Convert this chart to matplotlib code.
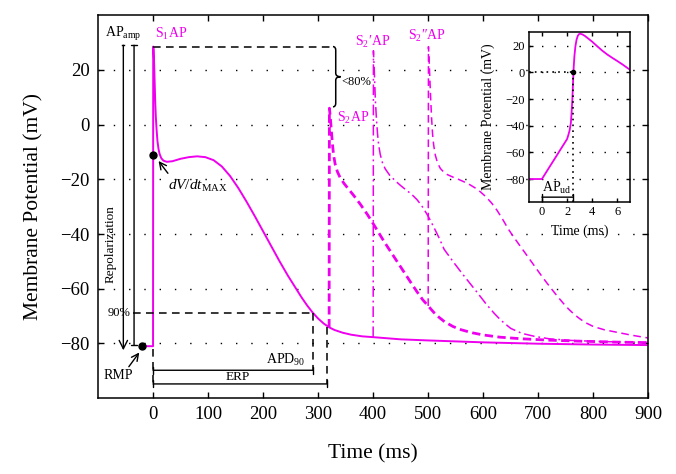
import numpy as np
import matplotlib
matplotlib.use("Agg")
import matplotlib.pyplot as plt
from matplotlib.path import Path
from matplotlib.patches import PathPatch

plt.rcParams['font.family'] = ['Liberation Serif', 'DejaVu Serif']
plt.rcParams['mathtext.fontset'] = 'custom'
plt.rcParams['mathtext.rm'] = 'Liberation Serif'
plt.rcParams['mathtext.it'] = 'Liberation Serif:italic'
plt.rcParams['mathtext.bf'] = 'Liberation Serif:bold'

MAG = '#ee00ee'

# --- dados ---
# S1 AP (sólida)
s1_t = [-20, 0, 0.3, 1, 2, 3, 4, 5, 6.5, 8, 10, 12, 15, 19, 25, 35, 50, 65, 80,
        95, 110, 125, 140, 155, 170, 185, 200, 215, 230, 245, 260, 270, 280, 290,
        300, 310, 320, 330, 345, 360, 380, 400, 450, 500, 600, 700, 800, 900]
s1_v = [-81, -81, 28.5, 27.5, 22, 15, 8, 3, -2, -6, -9, -10.8, -12.3, -13.2,
        -13.6, -13.4, -12.5, -11.9, -11.6, -11.9, -13, -15.3, -18.8, -23.2, -28.2,
        -33.5, -39, -44.5, -50, -55.2, -60, -63.2, -66.1, -68.7, -70.9, -72.7,
        -74.1, -75.1, -76.1, -76.8, -77.4, -77.7, -78.5, -78.9, -79.6, -80.1,
        -80.4, -80.6]

# S2 AP (tracejada grossa)
s2_t = [320, 320.5, 322, 324, 326, 328, 331, 335, 340, 347, 355, 365, 377, 390,
        400, 410, 420, 432, 445, 458, 470, 480, 490, 500, 510, 520, 530, 545, 560,
        580, 600, 630, 670, 720, 780, 840, 900]
s2_v = [-74.1, 6, 3, -2, -7, -11, -14.5, -17.2, -19.4, -21.5, -23.5, -26, -29.2,
        -33, -36.2, -39.5, -42.8, -46.5, -50.5, -54.5, -58.2, -61.2, -64, -66.3,
        -68.6, -70.5, -72.1, -73.8, -75, -76.1, -76.9, -77.7, -78.3, -78.8, -79.2,
        -79.5, -79.7]

# S2' AP (traço-ponto)
s2p_t = [400, 400.5, 402, 404, 406, 408, 410, 413, 417, 422, 430, 440, 450, 460,
         470, 480, 490, 500, 510, 520, 529, 545, 560, 575, 590, 605, 620, 632, 650,
         670, 693, 720, 760, 814, 860, 900]
s2p_v = [-77.7, 27, 20, 9, 2, -3.5, -7.5, -11, -14, -16.2, -18.5, -20.5, -22.3,
         -23.9, -25.5, -27.5, -30.2, -33.5, -37.4, -41.5, -45.6, -50, -54, -57.8,
         -61.6, -65.5, -69, -71.5, -74.5, -76.3, -77.4, -78.3, -78.9, -79.3, -79.5,
         -79.6]

# S2'' AP (tracejada fina)
s2pp_t = [500, 500.5, 502, 504, 506, 508, 510, 513, 517, 522, 528, 535, 545, 555,
          565, 575, 585, 595, 605, 615, 625, 635, 645, 655, 665, 675, 685, 695,
          705, 715, 725, 735, 745, 755, 765, 775, 785, 800, 820, 845, 870, 900]
s2pp_v = [-66.3, 28.5, 22, 12, 3, -3.5, -7.5, -11.2, -14, -16, -17.3, -18.3,
          -19.2, -20, -20.9, -21.9, -23.1, -24.6, -26.4, -28.6, -31.3, -34.5, -38,
          -41, -43.8, -46.6, -49.4, -52.2, -55, -57.7, -60.3, -62.8, -65.2, -67.4,
          -69.3, -70.9, -72.3, -73.8, -75, -76, -77, -78]

# detalhe do upstroke (inset)
ins_t = [-1, 0, 0.5, 1.0, 1.5, 2.0, 2.1, 2.2, 2.3, 2.36, 2.42, 2.47, 2.52, 2.58,
         2.66, 2.75, 2.85, 2.95, 3.05, 3.2, 3.4, 3.7, 4.0, 4.4, 4.8, 5.2, 5.6,
         6.0, 6.4, 6.8, 7.0]
ins_v = [-80, -80, -72.5, -65, -57.5, -50, -47, -43.5, -38, -30, -20, -8, 3, 12,
         19.5, 24.5, 27.5, 28.8, 29, 28.6, 27.5, 25.3, 23, 19.6, 16.3, 13.4, 10.9,
         8.5, 6, 3.3, 2]

x_ticks = [0, 100, 200, 300, 400, 500, 600, 700, 800, 900]
y_ticks = [-80, -60, -40, -20, 0, 20]
ins_xticks = [0, 2, 4, 6]
ins_yticks = [-80, -60, -40, -20, 0, 20]

# pontos de referência
v_peak = 28.5
v_rmp = -81
t_apd90 = 290
v_90 = -69
t_erp = 317
v_erp = -74.1
v_s2peak = 6.5
t_up = 2.5


def barra(ax, x0, x1, y, lw=1.0):
    ax.annotate('', xy=(x1, y), xytext=(x0, y),
                arrowprops=dict(arrowstyle='|-|,widthA=0.25,widthB=0.25',
                                lw=lw, color='k', shrinkA=0, shrinkB=0))


def chave(ax, x0, top, bot, w_hook, w_tip, r):
    mid = (top + bot) / 2
    verts = [(x0 - w_hook, top), (x0, top), (x0, top - r),
             (x0, mid + r),
             (x0, mid), (x0 + w_tip, mid),
             (x0, mid), (x0, mid - r),
             (x0, bot + r),
             (x0, bot), (x0 - w_hook, bot)]
    codes = [Path.MOVETO, Path.CURVE3, Path.CURVE3,
             Path.LINETO,
             Path.CURVE3, Path.CURVE3,
             Path.CURVE3, Path.CURVE3,
             Path.LINETO,
             Path.CURVE3, Path.CURVE3]
    ax.add_patch(PathPatch(Path(verts, codes), fill=False, lw=1.1, color='k'))


fig = plt.figure(figsize=(6.76, 4.74), dpi=100)
ax = fig.add_axes([0.145, 0.160, 0.814, 0.808])

# grade pontilhada só horizontal
for yv in y_ticks:
    ax.axhline(yv, color='k', lw=1.0, linestyle=(0, (1, 10)), zorder=0)

# curvas
ax.plot(s2pp_t, s2pp_v, color=MAG, lw=1.1, linestyle=(0, (5, 3)))
ax.plot(s2p_t, s2p_v, color=MAG, lw=1.1, linestyle=(0, (7, 2.5, 1.2, 2.5)))
ax.plot(s2_t, s2_v, color=MAG, lw=2.0, linestyle=(0, (3, 1.6)))
ax.plot(s1_t, s1_v, color=MAG, lw=1.4)

# anotações em preto
dash = (0, (5, 3.5))
ax.plot([0, 327], [v_peak, v_peak], color='k', lw=1.1, linestyle=dash)
chave(ax, 332, v_peak, v_s2peak, 5, 9, 1.3)
ax.text(343, 15.5, '<80%', fontsize=9, va='center', ha='left')

ax.plot([-37, t_apd90], [v_90, v_90], color='k', lw=1.1, linestyle=dash)
ax.plot([t_apd90, t_apd90], [v_90, -90], color='k', lw=1.1, linestyle=dash)
ax.plot([t_erp, t_erp], [v_erp, -94.8], color='k', lw=1.1, linestyle=dash)
ax.plot([0, 0], [-82, -94.8], color='k', lw=1.1, linestyle=dash)
barra(ax, 0, t_apd90, -89.8)
barra(ax, 0, t_erp, -94.8)
ax.text(276, -86, 'APD$_{90}$', fontsize=10, ha='right', va='center')
ax.text(153, -92.2, 'ERP', fontsize=9.5, ha='center', va='center')

# setas da esquerda
ax.annotate('', xy=(-54, -82.5), xytext=(-54, 29),
            arrowprops=dict(arrowstyle='->,head_length=0.6,head_width=0.3',
                            lw=1.0, color='k', shrinkA=0, shrinkB=0))
ax.plot([-56, -52], [29, 29], color='k', lw=1.0)
ax.annotate('', xy=(-34.5, -80.5), xytext=(-34.5, 29),
            arrowprops=dict(arrowstyle='|-|,widthA=0.2,widthB=0.2',
                            lw=1.0, color='k', shrinkA=0, shrinkB=0))
ax.text(-77, -43.5, 'Repolarization', rotation=90, fontsize=9.5,
        ha='center', va='center')
ax.text(-62, -69, '90%', fontsize=9, ha='center', va='center')
ax.text(-54, 33, 'AP$_{\\mathrm{amp}}$', fontsize=10, ha='center', va='center')

ax.plot([-20], [v_rmp], 'o', color='k', ms=5)
ax.annotate('', xy=(-25, -83.3), xytext=(-44, -88.5),
            arrowprops=dict(arrowstyle='->,head_length=0.5,head_width=0.25',
                            lw=1.0, color='k', shrinkA=0, shrinkB=0))
ax.text(-63, -91.8, 'RMP', fontsize=10, ha='center', va='center')

ax.plot([-0.5], [-11], 'o', color='k', ms=5)
ax.annotate('', xy=(10, -13.3), xytext=(27, -17.8),
            arrowprops=dict(arrowstyle='->,head_length=0.5,head_width=0.25',
                            lw=1.0, color='k', shrinkA=0, shrinkB=0))
ax.text(27, -22.5, '$dV/dt_{\\mathrm{MAX}}$', fontsize=11, ha='left', va='center')

# rótulos magenta
ax.text(3, 33.3, 'S$_1$AP', color=MAG, fontsize=10, ha='left', va='center')
ax.text(335, 2.5, 'S$_2$AP', color=MAG, fontsize=10, ha='left', va='center')
ax.text(399, 30.3, 'S$_2$′AP', color=MAG, fontsize=10, ha='center', va='center')
ax.text(498, 32.4, 'S$_2$″AP', color=MAG, fontsize=10, ha='center', va='center')

ax.set_xlim(-100, 900)
ax.set_ylim(-100, 40)
ax.set_xticks(x_ticks)
ax.set_yticks(y_ticks)
ax.tick_params(direction='in', top=True, right=True, length=4, width=1,
               labelsize=13.5, pad=6)
for s in ax.spines.values():
    s.set_linewidth(1.1)
ax.set_xlabel('Time (ms)', fontsize=15.5, labelpad=15)
ax.set_ylabel('Membrane Potential (mV)', fontsize=15.5, labelpad=12)

# --- inset ---
axi = fig.add_axes([0.783, 0.5745, 0.149, 0.357])
for yv in ins_yticks:
    axi.axhline(yv, color='k', lw=1.0, linestyle=(0, (1, 8)), zorder=0)
axi.plot(ins_t, ins_v, color=MAG, lw=1.3)
axi.plot([-1, t_up], [0, 0], color='k', lw=1.2, linestyle=(0, (1, 2.5)))
axi.plot([t_up, t_up], [-97, 0], color='k', lw=1.2, linestyle=(0, (1, 2.5)))
axi.plot([t_up], [0], 'o', color='k', ms=3)
barra(axi, 0, t_up, -93.6, lw=1.0)
axi.text(1.2, -87, 'AP$_{\\mathrm{ud}}$', fontsize=10, ha='center', va='center')
axi.set_xlim(-1, 7)
axi.set_ylim(-97, 30)
axi.set_xticks(ins_xticks)
axi.set_yticks(ins_yticks)
axi.tick_params(direction='in', top=True, right=True, length=3, width=1,
                labelsize=9, pad=3)
for s in axi.spines.values():
    s.set_linewidth(1.1)
axi.set_xlabel('Time (ms)', fontsize=10, labelpad=5)
axi.set_ylabel('Membrane Potential (mV)', fontsize=10, labelpad=8)

fig.savefig('out.png', dpi=100)
